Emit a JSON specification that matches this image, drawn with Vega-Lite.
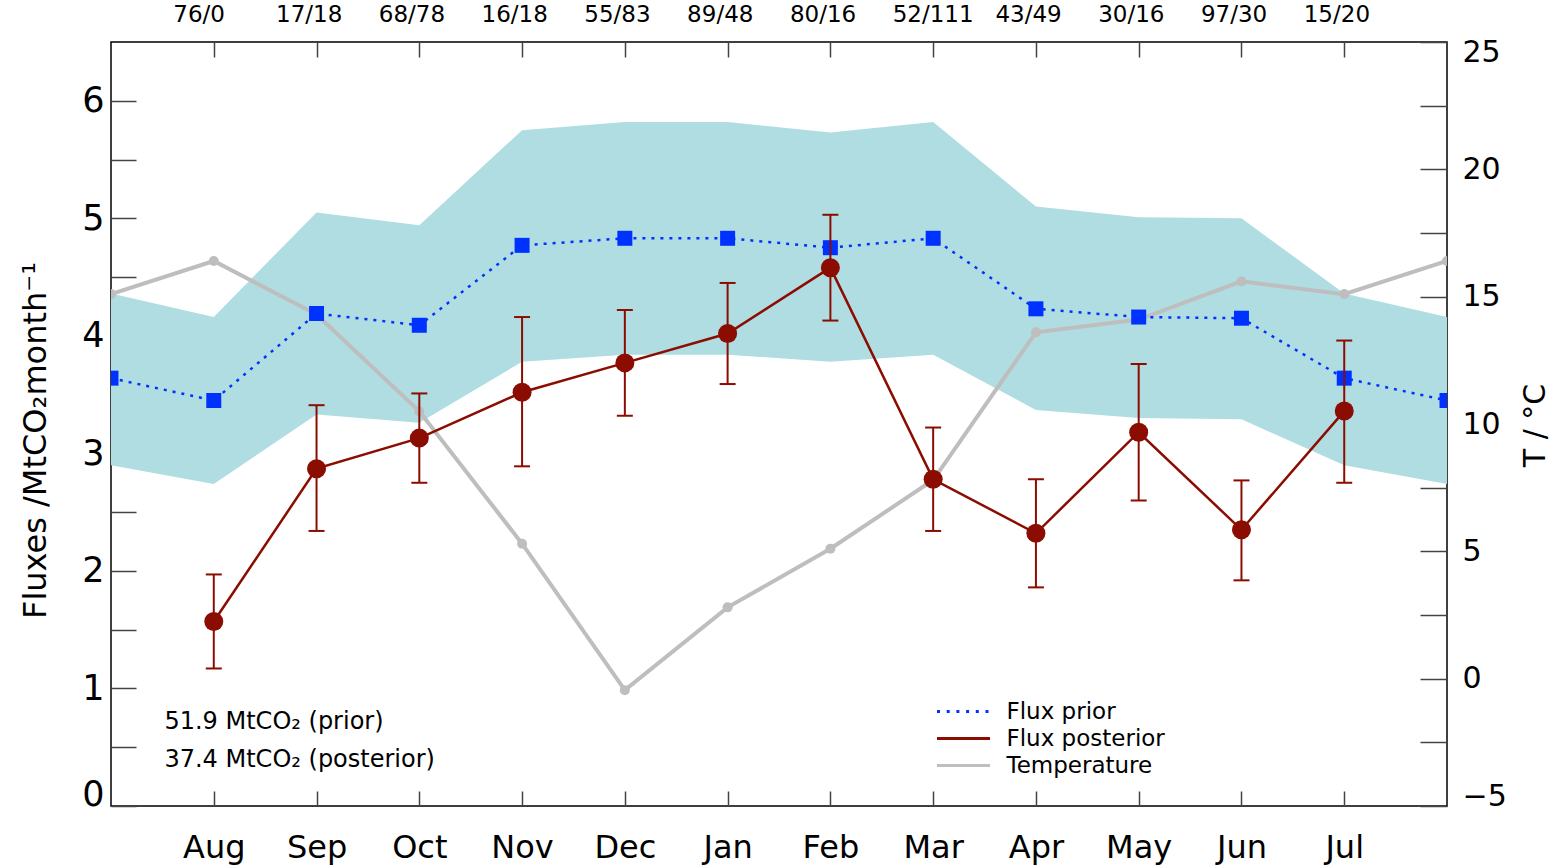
{
  "$schema": "https://vega.github.io/schema/vega-lite/v6.json",
  "width": 1336,
  "height": 764,
  "autosize": {"type": "none"},
  "padding": {"left": 111, "top": 42, "right": 113, "bottom": 61},
  "config": {
    "font": "DejaVu Sans",
    "view": {"stroke": "#000000", "strokeWidth": 1.5},
    "axis": {"grid": false, "domain": false, "tickColor": "#444444", "tickWidth": 1.5, "labelColor": "#000000", "titleColor": "#000000", "titleFontWeight": "normal", "labelFont": "DejaVu Sans", "titleFont": "DejaVu Sans"},
    "legend": {"labelFont": "DejaVu Sans", "labelFontSize": 23, "labelColor": "#000000", "symbolType": "stroke", "symbolSize": 2809, "labelOffset": 15, "rowPadding": 0, "clipHeight": 27, "symbolStrokeWidth": 3}
  },
  "data": {
    "values": [
      {"i": 0, "month": "Jul", "lo": 2.90, "hi": 4.36, "Flux prior": 3.64, "Flux posterior": null, "elo": null, "ehi": null, "Temperature": 15.1},
      {"i": 1, "month": "Aug", "lo": 2.74, "hi": 4.16, "Flux prior": 3.45, "Flux posterior": 1.57, "elo": 1.17, "ehi": 1.97, "Temperature": 16.4},
      {"i": 2, "month": "Sep", "lo": 3.33, "hi": 5.05, "Flux prior": 4.19, "Flux posterior": 2.87, "elo": 2.34, "ehi": 3.41, "Temperature": 14.3},
      {"i": 3, "month": "Oct", "lo": 3.26, "hi": 4.94, "Flux prior": 4.09, "Flux posterior": 3.13, "elo": 2.75, "ehi": 3.51, "Temperature": 10.5},
      {"i": 4, "month": "Nov", "lo": 3.78, "hi": 5.75, "Flux prior": 4.77, "Flux posterior": 3.52, "elo": 2.89, "ehi": 4.16, "Temperature": 5.3},
      {"i": 5, "month": "Dec", "lo": 3.84, "hi": 5.82, "Flux prior": 4.83, "Flux posterior": 3.77, "elo": 3.32, "ehi": 4.22, "Temperature": -0.45},
      {"i": 6, "month": "Jan", "lo": 3.84, "hi": 5.82, "Flux prior": 4.83, "Flux posterior": 4.02, "elo": 3.59, "ehi": 4.45, "Temperature": 2.8},
      {"i": 7, "month": "Feb", "lo": 3.78, "hi": 5.73, "Flux prior": 4.75, "Flux posterior": 4.58, "elo": 4.13, "ehi": 5.03, "Temperature": 5.1},
      {"i": 8, "month": "Mar", "lo": 3.84, "hi": 5.82, "Flux prior": 4.83, "Flux posterior": 2.78, "elo": 2.34, "ehi": 3.22, "Temperature": 7.8},
      {"i": 9, "month": "Apr", "lo": 3.37, "hi": 5.10, "Flux prior": 4.23, "Flux posterior": 2.32, "elo": 1.86, "ehi": 2.78, "Temperature": 13.6},
      {"i": 10, "month": "May", "lo": 3.30, "hi": 5.01, "Flux prior": 4.16, "Flux posterior": 3.18, "elo": 2.60, "ehi": 3.76, "Temperature": 14.1},
      {"i": 11, "month": "Jun", "lo": 3.29, "hi": 5.00, "Flux prior": 4.15, "Flux posterior": 2.35, "elo": 1.92, "ehi": 2.77, "Temperature": 15.6},
      {"i": 12, "month": "Jul", "lo": 2.90, "hi": 4.36, "Flux prior": 3.64, "Flux posterior": 3.36, "elo": 2.75, "ehi": 3.96, "Temperature": 15.1},
      {"i": 13, "month": "Aug", "lo": 2.74, "hi": 4.16, "Flux prior": 3.45, "Flux posterior": null, "elo": null, "ehi": null, "Temperature": 16.4}
    ]
  },
  "resolve": {"scale": {"y": "independent"}, "axis": {"x": "independent", "y": "independent"}},
  "layer": [
    {
      "mark": {"type": "area", "color": "#afdde2", "clip": true},
      "encoding": {
        "x": {"field": "i", "type": "quantitative", "scale": {"domain": [0, 13], "nice": false, "zero": false},
          "axis": {"orient": "bottom", "values": [1,2,3,4,5,6,7,8,9,10,11,12], "labelExpr": "['Jul','Aug','Sep','Oct','Nov','Dec','Jan','Feb','Mar','Apr','May','Jun','Jul','Aug'][datum.value]", "tickSize": -15, "labelPadding": 41, "labelFontSize": 32, "labelBaseline": "top", "title": null}},
        "y": {"field": "lo", "type": "quantitative", "scale": {"domain": [0, 6.5], "nice": false, "zero": false},
          "axis": {"orient": "left", "values": [0,0.5,1,1.5,2,2.5,3,3.5,4,4.5,5,5.5,6], "labelExpr": "datum.value % 1 === 0 ? '' + datum.value : ''", "labelFlush": true, "labelFlushOffset": 6, "tickSize": -25, "labelPadding": 32, "labelFontSize": 35, "title": "Fluxes  /MtCO₂month⁻¹", "titleFontSize": 32, "titleX": -76, "titleY": 398, "titleAngle": 270, "titleAlign": "center", "titleBaseline": "middle"}},
        "y2": {"field": "hi"}
      }
    },
    {
      "mark": {"type": "line", "clip": true, "strokeWidth": 4},
      "encoding": {
        "x": {"field": "i", "type": "quantitative",
          "axis": {"orient": "top", "values": [1,2,3,4,5,6,7,8,9,10,11,12], "labelExpr": "['','76/0','17/18','68/78','16/18','55/83','89/48','80/16','52/111','43/49','30/16','97/30','15/20',''][datum.value]", "tickSize": -15, "labelPadding": 31, "labelFontSize": 23, "labelAlign": "left", "labelOffset": -41, "title": null}},
        "y": {"field": "Temperature", "type": "quantitative", "scale": {"domain": [-5, 25], "nice": false, "zero": false},
          "axis": {"orient": "right", "values": [-5,-2.5,0,2.5,5,7.5,10,12.5,15,17.5,20,22.5,25], "labelExpr": "datum.value % 5 === 0 ? (datum.value < 0 ? '−' + (-datum.value) : '' + datum.value) : ''", "labelFlush": true, "labelFlushOffset": 5, "tickSize": -27, "labelPadding": 42, "labelFontSize": 30, "title": "T  /  °C", "titleFontSize": 30, "titleX": 88, "titleY": 383, "titleAngle": 270, "titleAlign": "center", "titleBaseline": "middle"}},
        "color": {"datum": "Temperature", "type": "nominal", "scale": {"domain": ["Flux prior", "Flux posterior", "Temperature"], "range": ["#0032ff", "#8b0c00", "#bebebe"]},
          "legend": {"orient": "none", "legendX": 824.5, "legendY": 656, "title": null, "symbolSize": 2809, "symbolStrokeWidth": 3, "labelOffset": 15,
            "encode": {"symbols": {"update": {"strokeDash": {"signal": "datum.value === 'Flux prior' ? [3, 6.7] : [1, 0]"}}}}}}
      }
    },
    {
      "mark": {"type": "circle", "color": "#bebebe", "opacity": 1, "size": 100, "clip": true},
      "encoding": {
        "x": {"field": "i", "type": "quantitative", "axis": null},
        "y": {"field": "Temperature", "type": "quantitative", "scale": {"domain": [-5, 25], "nice": false, "zero": false}, "axis": null}
      }
    },
    {
      "mark": {"type": "line", "clip": true, "strokeWidth": 2.5, "strokeDash": [3, 6]},
      "encoding": {
        "x": {"field": "i", "type": "quantitative", "axis": null},
        "y": {"field": "Flux prior", "type": "quantitative", "scale": {"domain": [0, 6.5], "nice": false, "zero": false}, "axis": null},
        "color": {"datum": "Flux prior", "type": "nominal"}
      }
    },
    {
      "mark": {"type": "line", "clip": true, "strokeWidth": 2.5},
      "encoding": {
        "x": {"field": "i", "type": "quantitative", "axis": null},
        "y": {"field": "Flux posterior", "type": "quantitative", "scale": {"domain": [0, 6.5], "nice": false, "zero": false}, "axis": null},
        "color": {"datum": "Flux posterior", "type": "nominal"}
      }
    },
    {
      "mark": {"type": "square", "color": "#0032ff", "opacity": 1, "size": 225, "clip": true},
      "encoding": {
        "x": {"field": "i", "type": "quantitative", "axis": null},
        "y": {"field": "Flux prior", "type": "quantitative", "scale": {"domain": [0, 6.5], "nice": false, "zero": false}, "axis": null}
      }
    },
    {
      "mark": {"type": "rule", "color": "#8b0c00", "strokeWidth": 2, "clip": true},
      "encoding": {
        "x": {"field": "i", "type": "quantitative", "axis": null},
        "y": {"field": "elo", "type": "quantitative", "scale": {"domain": [0, 6.5], "nice": false, "zero": false}, "axis": null},
        "y2": {"field": "ehi"}
      }
    },
    {
      "mark": {"type": "tick", "orient": "horizontal", "color": "#8b0c00", "size": 16, "thickness": 2, "opacity": 1, "clip": true},
      "encoding": {
        "x": {"field": "i", "type": "quantitative", "axis": null},
        "y": {"field": "elo", "type": "quantitative", "scale": {"domain": [0, 6.5], "nice": false, "zero": false}, "axis": null}
      }
    },
    {
      "mark": {"type": "tick", "orient": "horizontal", "color": "#8b0c00", "size": 16, "thickness": 2, "opacity": 1, "clip": true},
      "encoding": {
        "x": {"field": "i", "type": "quantitative", "axis": null},
        "y": {"field": "ehi", "type": "quantitative", "scale": {"domain": [0, 6.5], "nice": false, "zero": false}, "axis": null}
      }
    },
    {
      "mark": {"type": "circle", "color": "#8b0c00", "opacity": 1, "size": 361, "clip": true},
      "encoding": {
        "x": {"field": "i", "type": "quantitative", "axis": null},
        "y": {"field": "Flux posterior", "type": "quantitative", "scale": {"domain": [0, 6.5], "nice": false, "zero": false}, "axis": null}
      }
    },
    {
      "data": {"values": [{}]},
      "mark": {"type": "text", "align": "left", "baseline": "middle", "fontSize": 24, "color": "#000000"},
      "encoding": {
        "x": {"datum": 0.52, "type": "quantitative", "axis": null},
        "y": {"datum": 0.715, "type": "quantitative", "scale": {"domain": [0, 6.5], "nice": false, "zero": false}, "axis": null},
        "text": {"value": "51.9 MtCO₂ (prior)"}
      }
    },
    {
      "data": {"values": [{}]},
      "mark": {"type": "text", "align": "left", "baseline": "middle", "fontSize": 24, "color": "#000000"},
      "encoding": {
        "x": {"datum": 0.52, "type": "quantitative", "axis": null},
        "y": {"datum": 0.39, "type": "quantitative", "scale": {"domain": [0, 6.5], "nice": false, "zero": false}, "axis": null},
        "text": {"value": "37.4 MtCO₂ (posterior)"}
      }
    }
  ]
}
